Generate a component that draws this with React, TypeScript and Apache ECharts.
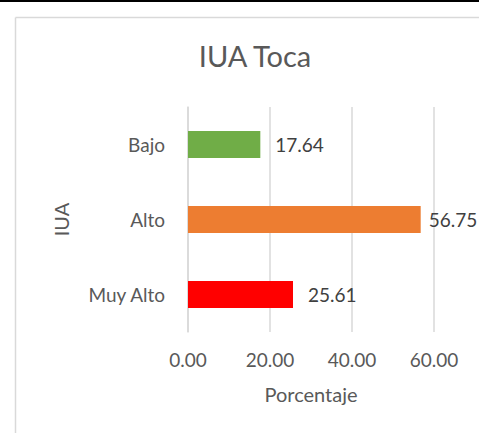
import React, { useEffect, useRef } from "react";
import * as echarts from "echarts";

const categories = ["Muy Alto", "Alto", "Bajo"];
const values = [25.61, 56.75, 17.64];
const barColors = ["#FF0000", "#ED7D31", "#70AD47"];
const xTicks = { min: 0, max: 60, interval: 20 };
const titleText = "IUA Toca";
const xName = "Porcentaje";
const yName = "IUA";

export default function App() {
  const ref = useRef<HTMLDivElement>(null);
  useEffect(() => {
    document.body.style.margin = "0";
    const chart = echarts.init(ref.current!, null, { renderer: "svg" });
    const font = "Lato, 'Open Sans', sans-serif";
    chart.setOption({
      animation: false,
      backgroundColor: "#ffffff",
      textStyle: { fontFamily: font },
      title: {
        text: titleText,
        left: 250,
        top: 36,
        textAlign: "center",
        textStyle: { fontFamily: font, fontSize: 29, fontWeight: "normal", color: "#595959" },
      },
      graphic: [
        { type: "line", shape: { x1: 0, y1: 1, x2: 479, y2: 1 }, style: { stroke: "#000000", lineWidth: 2 } },
        { type: "line", shape: { x1: 15.5, y1: 17.5, x2: 15.5, y2: 433 }, style: { stroke: "#D9D9D9", lineWidth: 1.5 } },
        { type: "line", shape: { x1: 15.5, y1: 17.5, x2: 479, y2: 17.5 }, style: { stroke: "#D9D9D9", lineWidth: 1.5 } },
      ],
      grid: { left: 188, right: 45, top: 107, bottom: 101, containLabel: false },
      xAxis: {
        type: "value",
        min: xTicks.min,
        max: xTicks.max,
        interval: xTicks.interval,
        axisLine: { show: false },
        axisTick: { show: false },
        splitLine: { show: true, lineStyle: { color: "#D9D9D9", width: 1.5 } },
        axisLabel: {
          formatter: (v: number) => v.toFixed(2),
          fontSize: 19,
          color: "#595959",
          margin: 18,
          fontFamily: font,
        },
        name: xName,
        nameLocation: "middle",
        nameGap: 52,
        nameTextStyle: { fontSize: 20, color: "#595959", fontFamily: font },
      },
      yAxis: {
        type: "category",
        data: categories,
        axisLine: { show: true, lineStyle: { color: "#D9D9D9", width: 1.5 } },
        axisTick: { show: false },
        axisLabel: { fontSize: 19, color: "#595959", margin: 23, fontFamily: font },
        name: yName,
        nameLocation: "middle",
        nameGap: 117,
        nameRotate: 90,
        nameTextStyle: { fontSize: 20, color: "#595959", fontFamily: font },
      },
      series: [
        {
          type: "bar",
          barWidth: "36%",
          data: values.map((v, i) => ({
            value: v,
            itemStyle: { color: barColors[i] },
            label: { distance: i === 1 ? 8 : 15 },
          })),
          label: {
            show: true,
            position: "right",
            formatter: (p: any) => Number(p.value).toFixed(2),
            fontSize: 19,
            color: "#404040",
            fontFamily: font,
          },
        },
      ],
    });
    return () => chart.dispose();
  }, []);
  return <div ref={ref} style={{ width: 479, height: 433 }} />;
}
